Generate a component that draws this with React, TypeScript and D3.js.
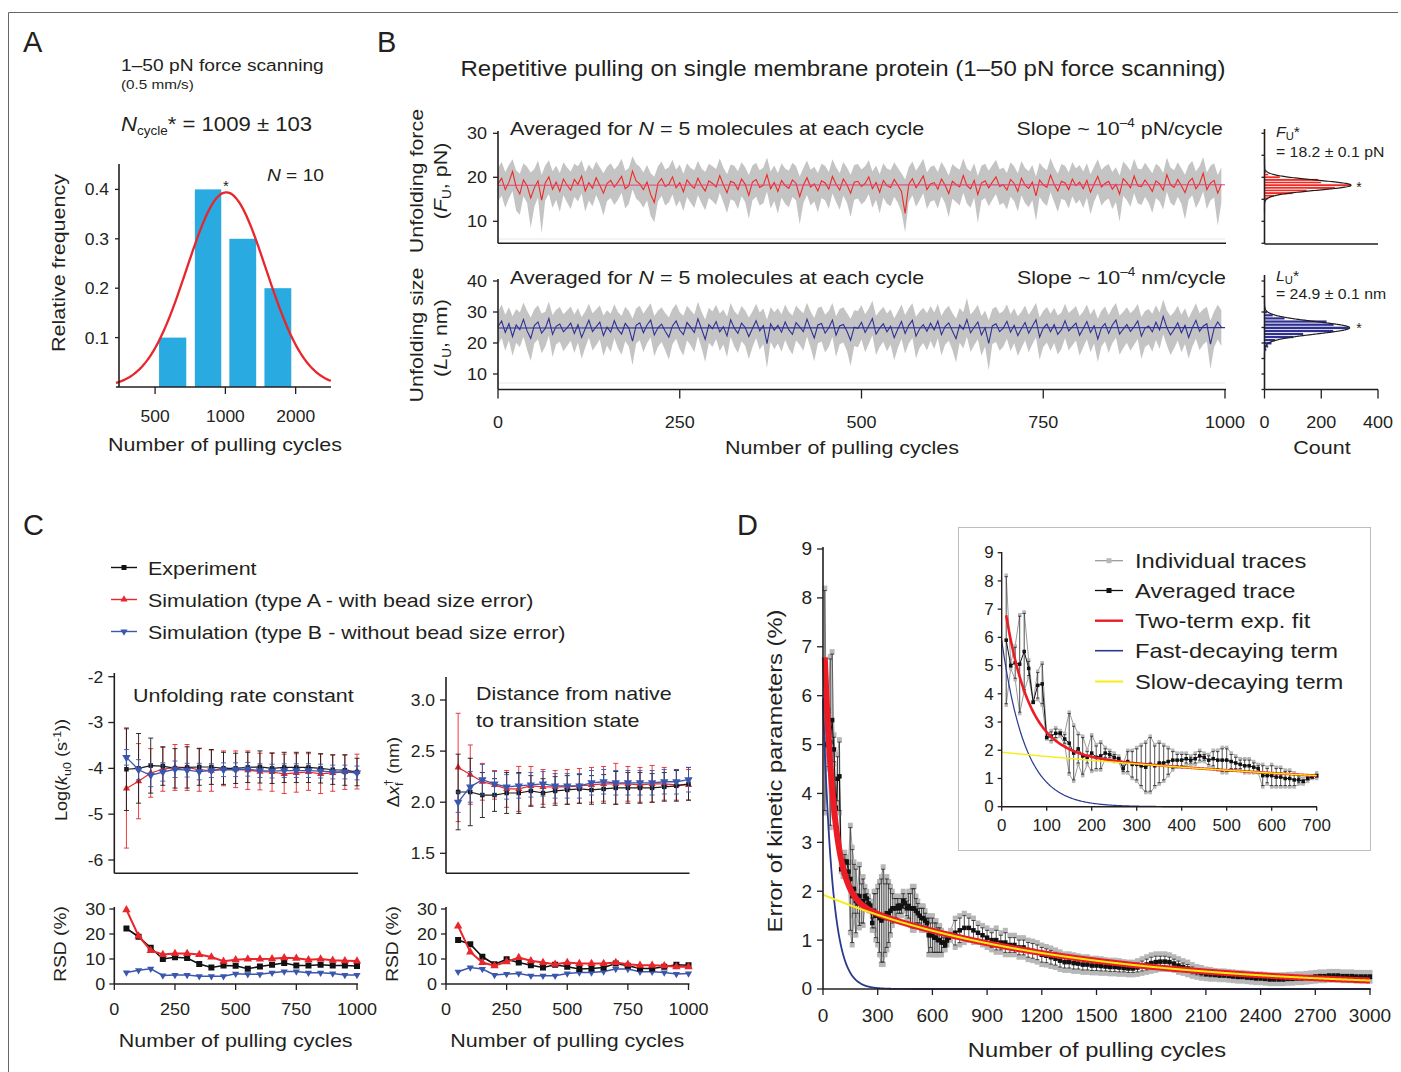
import React from 'react';
import * as d3 from 'd3';

const FONT = '"Liberation Sans", Arial, Helvetica, sans-serif';
const INK = '#231f20';
const RED = '#e8262b';
const BLUE_C = '#3b56ad';
const NAVY = '#2e3192';
const SX = 1.13; // the figure's lettering is a little wider than Arial
const TSX = 1.06;

// ---------- A: histogram of N_cycle* ----------
const cycleBinLo = [520, 740, 1040, 1470];
const cycleBinHi = [680, 960, 1355, 1915];
const cycleFreq = [0.1, 0.4, 0.3, 0.2];
const cycleFit = { mean: 1009, sdLog10: 0.17, peak: 0.394 };
const aXTicks = [500, 1000, 2000];
const aYTicks = [0.1, 0.2, 0.3, 0.4];

// ---------- B: averaged traces, every 5th cycle (0..995) ----------
const forceMean = [
  18.5, 19.8, 17.2, 18.9, 21.3, 17.8, 16.2, 19.4, 18.1, 15.3, 17.6, 19.2, 14.8, 18.7, 20.1, 17.3, 18.9, 16.8, 19.6, 18.2,
  17.1, 19.5, 18.4, 20.3, 16.9, 18.8, 17.5, 19.9, 18.2, 16.4, 18.6, 19.3, 17.8, 18.9, 20.2, 17.4, 18.1, 21.4, 19.2, 18.5,
  17.2, 18.9, 16.1, 14.3, 18.6, 19.7, 17.9, 18.4, 20.1, 17.6, 18.8, 16.7, 19.4, 18.3, 17.5, 19.8, 18.1, 16.9, 19.2, 18.6,
  17.8, 20.4, 18.3, 16.5, 19.1, 18.7, 17.2, 19.6, 18.4, 15.9, 18.9, 19.5, 17.7, 18.2, 20.6, 17.4, 18.8, 16.8, 19.3, 18.1,
  17.5, 19.4, 18.6, 15.6, 18.2, 19.9, 17.8, 18.5, 16.9, 19.2, 18.7, 17.3, 20.2, 18.4, 17.1, 19.6, 18.3, 16.4, 18.9, 19.1,
  17.9, 18.6, 20.1, 17.4, 18.8, 16.6, 19.3, 18.1, 17.7, 19.5, 18.2, 16.8, 11.8, 18.4, 19.7, 17.6, 18.9, 20.3, 17.2, 18.5,
  18.8, 17.3, 19.6, 18.2, 16.3, 19.1, 18.4, 17.8, 20.4, 18.1, 17.4, 19.3, 16.1, 18.7, 19.2, 17.6, 18.9, 20.1, 17.9, 18.3,
  17.1, 19.5, 18.6, 16.8, 19.8, 18.2, 17.5, 18.9, 15.8, 19.4, 18.3, 17.7, 20.5, 18.4, 16.9, 19.1, 18.7, 17.2, 19.6, 18.1,
  18.9, 17.4, 19.3, 16.6, 18.5, 20.2, 17.8, 18.6, 19.1, 17.3, 18.4, 16.2, 19.7, 18.8, 17.6, 20.3, 18.1, 17.9, 19.4, 18.2,
  16.8, 19.2, 18.5, 17.1, 20.6, 18.3, 17.7, 19.5, 18.1, 16.5, 18.9, 19.8, 17.4, 18.6, 20.9, 17.2, 18.7, 19.3, 16.4, 18.4,
];
const forceHi = [
  22.1, 23.5, 21.2, 22.8, 24.1, 21.6, 20.8, 23.2, 22.4, 21.1, 21.9, 23.8, 20.6, 22.7, 23.9, 21.4, 22.6, 21.0, 23.4, 22.2,
  21.3, 23.1, 22.5, 23.9, 21.2, 22.9, 21.7, 23.6, 22.3, 20.9, 22.4, 23.2, 21.8, 22.6, 24.2, 21.5, 22.1, 24.8, 23.1, 22.4,
  21.1, 22.8, 20.9, 20.1, 22.5, 23.6, 21.8, 22.3, 24.0, 21.7, 22.9, 20.8, 23.2, 22.1, 21.6, 23.7, 22.0, 21.2, 23.1, 22.5,
  21.9, 24.3, 22.2, 20.7, 22.9, 22.6, 21.4, 23.4, 22.3, 20.5, 22.7, 23.3, 21.6, 22.2, 24.5, 21.3, 22.7, 20.9, 23.2, 22.0,
  21.5, 23.3, 22.5, 20.2, 22.1, 23.8, 21.7, 22.4, 21.0, 23.1, 22.6, 21.2, 24.1, 22.3, 21.0, 23.5, 22.2, 20.6, 22.8, 23.0,
  21.8, 22.5, 23.9, 21.3, 22.7, 20.7, 23.2, 22.0, 21.6, 23.4, 22.1, 20.9, 19.5, 22.3, 23.6, 21.5, 22.8, 24.2, 21.1, 22.4,
  22.7, 21.2, 23.5, 22.1, 20.4, 23.0, 22.3, 21.7, 24.3, 22.0, 21.3, 23.2, 20.3, 22.6, 23.1, 21.5, 22.8, 24.0, 21.8, 22.2,
  21.0, 23.4, 22.5, 20.9, 23.7, 22.1, 21.4, 22.8, 20.2, 23.3, 22.2, 21.6, 24.4, 22.3, 20.8, 23.0, 22.6, 21.1, 23.5, 22.0,
  22.8, 21.3, 23.2, 20.7, 22.4, 24.1, 21.7, 22.5, 23.0, 21.2, 22.3, 20.4, 23.6, 22.7, 21.5, 24.2, 22.0, 21.8, 23.3, 22.1,
  20.9, 23.1, 22.4, 21.0, 24.5, 22.2, 21.6, 23.4, 22.0, 20.6, 22.8, 23.7, 21.3, 22.5, 24.6, 21.1, 22.6, 23.2, 20.5, 22.3,
];
const forceLo = [
  14.6, 15.8, 13.1, 15.2, 16.9, 12.4, 11.5, 15.7, 14.2, 8.5, 13.3, 15.4, 7.2, 14.8, 16.2, 13.0, 14.9, 12.1, 15.9, 14.3,
  12.8, 15.6, 14.5, 16.4, 12.2, 14.7, 13.4, 16.0, 14.1, 11.3, 14.6, 15.3, 13.7, 14.9, 16.5, 12.9, 14.0, 17.2, 15.2, 14.4,
  13.1, 14.8, 11.2, 9.8, 14.5, 15.8, 13.6, 14.3, 16.1, 13.3, 14.7, 12.3, 15.5, 14.2, 13.0, 15.9, 14.1, 12.5, 15.3, 14.6,
  13.7, 16.5, 14.3, 11.9, 15.0, 14.6, 12.8, 15.7, 14.4, 10.6, 14.8, 15.6, 13.6, 14.1, 16.8, 12.9, 14.6, 11.7, 15.4, 14.0,
  13.2, 15.5, 14.7, 9.3, 14.1, 16.0, 13.6, 14.5, 12.0, 15.3, 14.8, 12.8, 16.3, 14.4, 12.6, 15.8, 14.2, 11.0, 14.9, 15.2,
  13.8, 14.6, 16.2, 13.1, 14.9, 11.8, 15.4, 14.0, 13.4, 15.6, 14.2, 12.1, 7.5, 14.4, 15.9, 13.3, 14.8, 16.4, 12.8, 14.5,
  14.8, 12.9, 15.7, 14.1, 10.9, 15.1, 14.4, 13.6, 16.5, 14.0, 13.1, 15.4, 9.6, 14.7, 15.3, 13.4, 14.9, 16.2, 13.7, 14.2,
  12.7, 15.6, 14.6, 12.2, 15.9, 14.1, 13.2, 14.8, 10.1, 15.5, 14.3, 13.5, 16.6, 14.4, 12.1, 15.1, 14.7, 12.9, 15.7, 14.0,
  14.9, 13.0, 15.4, 11.6, 14.5, 16.3, 13.6, 14.6, 15.2, 12.8, 14.4, 9.9, 15.8, 14.8, 13.3, 16.4, 14.1, 13.7, 15.5, 14.2,
  11.9, 15.3, 14.5, 12.7, 16.7, 14.2, 13.5, 15.6, 14.0, 10.4, 14.9, 15.9, 13.0, 14.6, 16.8, 12.8, 14.7, 15.4, 9.0, 14.3,
];
const sizeMean = [
  25.3, 27.1, 23.4, 26.2, 22.1, 25.8, 24.3, 27.6, 23.9, 21.5, 25.6, 26.8, 23.2, 24.7, 27.9, 22.8, 25.4, 26.1, 23.6, 24.9,
  26.4, 23.1, 25.9, 21.8, 24.6, 27.3, 23.7, 25.2, 26.7, 22.4, 25.1, 23.5, 27.2, 24.4, 22.9, 26.3, 24.8, 20.6, 25.7, 26.5,
  23.3, 25.8, 27.4, 22.6, 24.9, 26.1, 23.8, 21.9, 25.5, 27.1, 24.2, 22.7, 26.6, 25.1, 23.4, 27.8, 24.5, 21.2, 25.9, 24.6,
  26.9, 23.6, 25.3, 22.3, 27.5, 24.8, 23.1, 26.4, 25.0, 22.1, 24.7, 27.2, 23.9, 25.6, 19.8, 26.2, 24.1, 25.7, 23.5, 26.8,
  24.3, 22.8, 26.6, 25.2, 23.7, 27.7, 24.6, 21.6, 25.8, 26.3, 23.2, 24.9, 27.4, 22.5, 25.5, 26.0, 23.8, 20.9, 25.1, 24.7,
  26.7, 23.4, 25.6, 27.9, 22.9, 24.8, 26.2, 23.6, 25.4, 21.7, 24.5, 26.9, 23.1, 25.7, 27.3, 22.2, 24.6, 25.9, 23.8, 26.4,
  24.2, 27.1, 22.7, 25.3, 26.5, 23.9, 21.4, 25.8, 24.4, 27.6, 23.3, 25.1, 26.8, 22.6, 24.9, 19.9, 25.5, 26.2, 23.7, 24.8,
  27.0, 23.5, 25.7, 22.4, 24.6, 26.6, 23.2, 25.4, 27.5, 21.9, 24.8, 26.1, 23.6, 25.9, 22.8, 24.3, 27.2, 23.9, 25.2, 26.4,
  22.5, 24.7, 26.9, 23.4, 25.6, 21.3, 24.9, 26.3, 23.1, 25.8, 27.4, 22.9, 24.5, 26.0, 23.7, 25.3, 27.1, 22.2, 24.8, 25.5,
  23.6, 26.7, 24.2, 28.6, 25.0, 22.6, 24.4, 26.5, 23.3, 25.7, 21.8, 24.9, 27.3, 23.8, 25.4, 26.2, 19.6, 24.7, 26.8, 25.1,
];
const sizeHi = [
  30.2, 32.4, 29.1, 31.5, 28.6, 31.0, 29.8, 33.1, 30.4, 28.2, 30.9, 32.2, 29.5, 30.1, 33.4, 29.0, 30.7, 31.6, 29.3, 30.5,
  31.8, 29.2, 31.3, 28.4, 30.2, 32.7, 29.6, 30.8, 32.1, 28.9, 30.6, 29.4, 32.5, 30.0, 28.8, 31.7, 30.3, 27.9, 31.1, 32.0,
  29.4, 31.2, 32.8, 28.7, 30.4, 31.5, 29.7, 28.3, 31.0, 32.6, 29.9, 28.8, 32.0, 30.6, 29.2, 33.3, 30.1, 27.6, 31.4, 30.2,
  32.3, 29.5, 30.8, 28.5, 32.9, 30.3, 29.0, 31.9, 30.5, 28.2, 30.2, 32.7, 29.8, 31.1, 27.5, 31.6, 29.9, 31.2, 29.3, 32.4,
  30.1, 28.9, 32.1, 30.7, 29.6, 33.0, 30.2, 28.1, 31.3, 31.8, 29.1, 30.4, 32.9, 28.6, 31.0, 31.5, 29.7, 27.8, 30.6, 30.3,
  32.2, 29.3, 31.1, 33.6, 28.8, 30.3, 31.7, 29.5, 30.9, 28.0, 30.1, 32.4, 29.0, 31.2, 32.8, 28.5, 30.2, 31.4, 29.6, 31.9,
  29.8, 32.6, 28.8, 30.8, 32.0, 29.7, 27.9, 31.3, 29.9, 34.5, 29.2, 30.6, 32.3, 28.7, 30.4, 27.3, 31.0, 31.7, 29.5, 30.3,
  32.5, 29.3, 31.2, 28.6, 30.1, 32.1, 29.1, 30.9, 33.0, 28.3, 30.3, 31.6, 29.4, 31.4, 28.9, 29.8, 32.7, 29.7, 30.7, 31.9,
  28.7, 30.2, 32.4, 29.2, 31.1, 27.8, 30.4, 31.8, 29.0, 31.3, 32.9, 28.9, 30.0, 31.5, 29.6, 30.8, 32.6, 28.4, 30.3, 31.0,
  29.4, 32.2, 29.8, 34.0, 30.5, 28.7, 30.0, 32.0, 29.1, 31.2, 28.1, 30.4, 32.8, 29.6, 30.9, 31.7, 27.2, 30.2, 32.3, 30.6,
];
const sizeLo = [
  19.4, 21.6, 17.5, 20.8, 15.9, 20.1, 18.6, 22.0, 17.8, 14.2, 19.9, 21.2, 16.7, 18.8, 22.3, 15.5, 19.6, 20.4, 17.3, 19.0,
  20.7, 16.8, 20.2, 14.9, 18.5, 21.7, 17.6, 19.3, 21.1, 15.8, 19.2, 17.1, 21.5, 18.3, 16.2, 20.6, 18.9, 12.8, 19.8, 20.9,
  17.0, 19.9, 21.8, 15.7, 18.8, 20.3, 17.7, 14.6, 19.6, 21.4, 18.1, 16.0, 20.9, 19.2, 17.1, 22.2, 18.4, 13.9, 20.1, 18.7,
  21.3, 17.4, 19.5, 15.4, 21.9, 18.9, 16.8, 20.6, 19.1, 14.8, 18.6, 21.6, 17.8, 19.7, 11.9, 20.4, 18.0, 19.8, 17.2, 21.0,
  18.2, 16.3, 20.8, 19.4, 17.5, 22.1, 18.5, 14.1, 19.9, 20.5, 16.9, 18.8, 21.9, 15.6, 19.6, 20.2, 17.4, 12.6, 19.0, 18.6,
  21.1, 17.0, 19.7, 22.4, 16.1, 18.7, 20.4, 17.3, 19.5, 14.4, 18.4, 21.3, 16.6, 19.8, 21.6, 15.1, 18.5, 20.0, 17.6, 20.7,
  18.1, 21.5, 16.0, 19.4, 20.7, 17.8, 13.7, 20.1, 18.2, 22.0, 17.1, 19.3, 21.2, 15.9, 18.9, 11.2, 19.7, 20.3, 17.5, 18.8,
  21.4, 17.3, 19.9, 15.8, 18.4, 20.9, 16.9, 19.6, 21.8, 14.6, 18.7, 20.2, 17.4, 20.0, 16.3, 18.1, 21.6, 17.6, 19.3, 20.8,
  15.9, 18.6, 21.2, 17.0, 19.8, 13.9, 18.9, 20.6, 16.8, 19.9, 21.7, 16.2, 18.3, 20.1, 17.5, 19.4, 21.3, 14.8, 18.7, 19.6,
  17.2, 21.0, 18.1, 22.8, 19.3, 16.1, 18.2, 20.8, 17.0, 19.7, 14.9, 18.8, 21.4, 17.7, 19.5, 20.5, 11.5, 18.6, 21.1, 19.0,
];
const forceFit = { intercept: 18.2, slope: 1e-4 };
const sizeFit = { intercept: 24.85, slope: 1e-4 };
const bXTicks = [0, 250, 500, 750, 1000];

// side histograms (Count)
const forceBinMid = [21.2, 20.6, 20.0, 19.4, 18.8, 18.2, 17.6, 17.0, 16.4, 15.8, 15.2];
const forceCount = [6, 15, 55, 190, 200, 305, 250, 150, 100, 35, 15];
const forceBinW = 0.6;
const forceHistFit = { mean: 18.2, sd: 1.15, peak: 305 };
const sizeBinMid = [30.9, 29.9, 28.9, 27.9, 26.9, 25.9, 24.9, 23.9, 22.9, 21.9, 20.9, 19.9, 18.9, 17.9];
const sizeCount = [5, 10, 30, 72, 220, 245, 298, 244, 138, 103, 38, 26, 14, 8];
const sizeBinW = 1.0;
const sizeHistFit = { mean: 24.9, sd: 2.0, peak: 300 };

// ---------- C: convergence of kinetic parameters ----------
const cCycles = [50, 100, 150, 200, 250, 300, 350, 400, 450, 500, 550, 600, 650, 700, 750, 800, 850, 900, 950, 1000];
const kExp = [-4.02, -4.0, -3.94, -3.95, -4.0, -3.98, -3.97, -3.97, -4.0, -4.0, -3.98, -3.97, -4.0, -3.98, -3.98, -3.98, -4.0, -4.03, -4.04, -4.08];
const kExpErr = [0.9, 0.76, 0.6, 0.42, 0.43, 0.45, 0.4, 0.38, 0.35, 0.33, 0.33, 0.35, 0.33, 0.33, 0.33, 0.33, 0.32, 0.32, 0.33, 0.3];
const kSimA = [-4.44, -4.28, -4.1, -4.02, -3.98, -3.98, -4.03, -4.05, -4.0, -4.02, -4.04, -4.07, -4.08, -4.12, -4.1, -4.08, -4.12, -4.1, -4.08, -4.07];
const kSimAErr = [1.3, 0.82, 0.53, 0.48, 0.5, 0.5, 0.47, 0.45, 0.38, 0.4, 0.42, 0.4, 0.42, 0.43, 0.42, 0.4, 0.43, 0.4, 0.38, 0.38];
const kSimB = [-3.76, -4.03, -4.15, -4.08, -4.02, -4.04, -4.07, -4.05, -4.03, -4.03, -4.02, -4.05, -4.06, -4.05, -4.05, -4.05, -4.06, -4.08, -4.08, -4.1];
const kSimBErr = [0.17, 0.22, 0.25, 0.2, 0.18, 0.15, 0.18, 0.15, 0.15, 0.15, 0.15, 0.15, 0.15, 0.15, 0.15, 0.15, 0.15, 0.15, 0.15, 0.15];
const dxExp = [2.1, 2.1, 2.07, 2.07, 2.09, 2.09, 2.11, 2.09, 2.11, 2.12, 2.13, 2.12, 2.13, 2.14, 2.14, 2.14, 2.14, 2.15, 2.16, 2.18];
const dxExpErr = [0.37, 0.33, 0.22, 0.16, 0.2, 0.2, 0.15, 0.14, 0.14, 0.14, 0.14, 0.14, 0.14, 0.16, 0.15, 0.15, 0.14, 0.14, 0.15, 0.16];
const dxSimA = [2.34, 2.27, 2.2, 2.17, 2.13, 2.13, 2.16, 2.15, 2.15, 2.15, 2.16, 2.17, 2.18, 2.18, 2.18, 2.17, 2.18, 2.18, 2.17, 2.17];
const dxSimAErr = [0.53, 0.29, 0.18, 0.14, 0.18, 0.22, 0.19, 0.17, 0.16, 0.17, 0.17, 0.17, 0.17, 0.2, 0.17, 0.17, 0.18, 0.16, 0.15, 0.15];
const dxSimB = [2.0, 2.15, 2.22, 2.18, 2.15, 2.16, 2.17, 2.18, 2.16, 2.16, 2.16, 2.19, 2.2, 2.19, 2.19, 2.19, 2.19, 2.2, 2.2, 2.22];
const dxSimBErr = [0.1, 0.15, 0.15, 0.12, 0.12, 0.12, 0.12, 0.12, 0.12, 0.12, 0.12, 0.12, 0.12, 0.12, 0.12, 0.12, 0.12, 0.12, 0.12, 0.12];
const rsdKExp = [22.2, 18.9, 14.5, 10, 10.7, 10.4, 8, 6.6, 7.4, 7.3, 6.1, 7, 7.7, 8.4, 7.4, 7.4, 7.7, 7.4, 7.4, 7.2];
const rsdKSimA = [29.7, 19.2, 13.4, 11.8, 12.2, 12.2, 11.8, 10.8, 9.1, 9.7, 10, 10, 10.1, 10.5, 10.3, 9.7, 10, 9.5, 9.3, 9.2];
const rsdKSimB = [4.6, 5.5, 6.1, 3.4, 3.6, 3.6, 3.1, 3.1, 3.1, 4.1, 3.9, 3.9, 4.5, 5, 5, 4.5, 4.5, 4.2, 3.6, 3.6];
const rsdDxExp = [17.6, 15.9, 10.9, 7.9, 9.9, 8.6, 7.5, 6.6, 7.7, 6.9, 6, 6.2, 6.6, 8.2, 7.3, 6.2, 6.2, 6.9, 7.7, 7.5];
const rsdDxSimA = [23.2, 12.8, 8.6, 7.3, 8.9, 10.6, 9.3, 8.6, 7.9, 8.6, 8.2, 8.2, 8.2, 8.6, 7.9, 7.5, 7.5, 7.3, 6.9, 6.9];
const rsdDxSimB = [4.9, 6.6, 6, 3.6, 4, 4.2, 3.3, 3.3, 3.3, 4.2, 4.6, 4.6, 5, 6, 6, 4.9, 4.9, 4.6, 4, 4.2];
const cXTicks = [0, 250, 500, 750, 1000];

// ---------- D: error of kinetic parameters ----------
const earlyCycles = d3.range(10, 701, 10); // 10..700
const earlyTraceA = [
  8.2, 5.1, 5.7, 6.8, 6.9, 5.2, 3.7, 4.8, 5.1, 2.5,
  2.7, 2.8, 2.7, 2.6, 3.35, 2.9, 2.6, 2.5, 2.0, 2.55,
  2.2, 2.3, 2.1, 2.0, 1.9, 1.8, 1.5, 2.0, 2.0, 2.1,
  2.2, 2.3, 2.5, 2.2, 2.3, 2.2, 2.1, 2.0, 1.9, 1.9,
  1.9, 1.8, 1.9, 2.0, 1.9, 1.85, 2.0, 2.0, 2.1, 2.1,
  1.9, 1.8, 1.7, 1.7, 1.7, 1.6, 1.5, 1.5, 1.4, 1.5,
  1.4, 1.4, 1.3, 1.3, 1.2, 1.1, 1.0, 1.1, 1.1, 1.2,
];
const earlyTraceB = [
  3.6, 4.9, 4.5, 3.3, 4.1, 4.6, 3.7, 3.8, 3.6, 2.4,
  2.3, 2.4, 2.5, 2.2, 1.15, 0.9, 1.5, 1.1, 1.5, 1.25,
  1.3, 1.3, 1.7, 1.7, 1.6, 1.6, 1.2, 1.2, 1.0, 0.9,
  0.7, 0.5, 0.5, 0.7, 0.8, 0.9, 1.1, 1.3, 1.4, 1.4,
  1.5, 1.5, 1.5, 1.6, 1.6, 1.45, 1.4, 1.3, 1.2, 1.2,
  1.3, 1.3, 1.3, 1.2, 1.2, 1.2, 1.2, 0.7, 0.8, 0.7,
  0.7, 0.7, 0.7, 0.7, 0.7, 0.8, 0.8, 0.9, 1.0, 1.0,
];
const lateCycles = d3.range(725, 3001, 25); // 725..3000
const lateTraceA = [
  1.45, 1.5, 1.55, 1.5, 1.45, 1.35, 1.3, 1.25, 1.2, 1.25, 1.15, 1.2, 1.1, 1.1, 1.05, 1.05, 1.0, 0.98, 0.95, 0.9,
  0.87, 0.84, 0.8, 0.76, 0.72, 0.72, 0.7, 0.68, 0.66, 0.66, 0.63, 0.63, 0.62, 0.6, 0.59, 0.59, 0.58, 0.56, 0.55, 0.55,
  0.58, 0.62, 0.66, 0.7, 0.72, 0.72, 0.72, 0.7, 0.66, 0.62, 0.58, 0.55, 0.5, 0.46, 0.44, 0.41, 0.4, 0.38, 0.37, 0.37,
  0.36, 0.35, 0.34, 0.34, 0.33, 0.32, 0.31, 0.31, 0.3, 0.29, 0.29, 0.29, 0.29, 0.3, 0.3, 0.31, 0.31, 0.32, 0.33, 0.34,
  0.35, 0.35, 0.36, 0.36, 0.36, 0.35, 0.35, 0.35, 0.34, 0.34, 0.34, 0.34,
];
const lateTraceB = [
  0.85, 0.9, 0.95, 1.0, 0.95, 0.95, 0.9, 0.85, 0.8, 0.75, 0.75, 0.7, 0.7, 0.7, 0.65, 0.65, 0.6, 0.58, 0.55, 0.5,
  0.49, 0.46, 0.44, 0.4, 0.38, 0.38, 0.36, 0.36, 0.34, 0.34, 0.33, 0.33, 0.32, 0.32, 0.31, 0.31, 0.3, 0.3, 0.29, 0.29,
  0.3, 0.32, 0.34, 0.36, 0.38, 0.4, 0.4, 0.4, 0.38, 0.34, 0.32, 0.29, 0.26, 0.24, 0.22, 0.21, 0.2, 0.2, 0.19, 0.19,
  0.18, 0.17, 0.16, 0.16, 0.15, 0.14, 0.13, 0.13, 0.12, 0.11, 0.11, 0.11, 0.11, 0.12, 0.12, 0.13, 0.13, 0.14, 0.15, 0.16,
  0.17, 0.17, 0.18, 0.18, 0.18, 0.17, 0.17, 0.17, 0.16, 0.16, 0.16, 0.16,
];
const expFit = { fastAmp: 5.9, fastTau: 52, slowAmp: 1.93, slowTau: 1245, start: 10 };
const dXTicks = d3.range(0, 3001, 300);
const dYTicks = d3.range(0, 10);
const insetXTicks = d3.range(0, 701, 100);

// ---------- helpers ----------
type Sc = (v: number) => number;

// text placed at (x, y) and stretched sideways a little
function T({ x, y, size, anchor = 'start', rot = false, sx = SX, children, ...rest }: any) {
  const tf = `translate(${x},${y})${rot ? ' rotate(-90)' : ''} scale(${sx},1)`;
  return (
    <text transform={tf} fontSize={size} textAnchor={anchor} {...rest}>
      {children}
    </text>
  );
}

function AxisLeft({ s, x, ticks, from, to, len = 5, size = 17, fmt = (t: number) => String(t), gap = 5, labels = true, sw = 1.6 }: any) {
  return (
    <g>
      <line x1={x} x2={x} y1={from} y2={to} stroke={INK} strokeWidth={sw} />
      {ticks.map((t: number) => (
        <g key={t}>
          <line x1={x - len} x2={x} y1={s(t)} y2={s(t)} stroke={INK} strokeWidth={1.3} />
          {labels && (
            <T x={x - len - gap} y={s(t)} dy="0.36em" anchor="end" size={size} sx={TSX}>
              {fmt(t)}
            </T>
          )}
        </g>
      ))}
    </g>
  );
}

function AxisBottom({ s, y, ticks, from, to, len = 6, size = 17, base = 30, fmt = (t: number) => String(t), sw = 1.6 }: any) {
  return (
    <g>
      <line x1={from} x2={to} y1={y} y2={y} stroke={INK} strokeWidth={sw} />
      {ticks.map((t: number) => (
        <g key={t}>
          <line x1={s(t)} x2={s(t)} y1={y} y2={y + len} stroke={INK} strokeWidth={1.3} />
          {base > 0 && (
            <T x={s(t)} y={y + base} anchor="middle" size={size} sx={TSX}>
              {fmt(t)}
            </T>
          )}
        </g>
      ))}
    </g>
  );
}

function Marker({ kind, x, y, size, color }: any) {
  if (kind === 'square') return <rect x={x - size / 2} y={y - size / 2} width={size} height={size} fill={color} />;
  const p = d3.symbol(d3.symbolTriangle, size * size * 0.62)() as string;
  return <path d={p} transform={`translate(${x},${y}) rotate(${kind === 'down' ? 180 : 0})`} fill={color} />;
}

function ErrSeries({ xs, ys, errs, sx, sy, color, marker, lw = 1.2, ms = 5, cap = 2.5, ew = 0.9 }: any) {
  const line = d3.line<number>().x((_, i) => sx(xs[i])).y((d) => sy(d));
  return (
    <g>
      {errs &&
        ys.map((v: number, i: number) => {
          const cx = sx(xs[i]);
          const a = sy(v + errs[i]);
          const b = sy(v - errs[i]);
          return (
            <g key={i} stroke={color} strokeWidth={ew}>
              <line x1={cx} x2={cx} y1={a} y2={b} />
              <line x1={cx - cap} x2={cx + cap} y1={a} y2={a} />
              <line x1={cx - cap} x2={cx + cap} y1={b} y2={b} />
            </g>
          );
        })}
      <path d={line(ys) || ''} fill="none" stroke={color} strokeWidth={lw} />
      {ys.map((v: number, i: number) => (
        <Marker key={i} kind={marker} x={sx(xs[i])} y={sy(v)} size={ms} color={color} />
      ))}
    </g>
  );
}

function VLabel({ x, y, size = 19, children }: any) {
  return (
    <T x={x} y={y} rot anchor="middle" size={size}>
      {children}
    </T>
  );
}

// ---------- Panel A ----------
function PanelA() {
  const x = d3.scaleLog().domain([340, 2834]).range([116, 331]);
  const y = d3.scaleLinear().domain([0, 0.45]).range([387, 164.7]);
  const logs = d3.range(Math.log10(340), Math.log10(2834), 0.005);
  const m = Math.log10(cycleFit.mean);
  const fit = d3
    .line<number>()
    .x((l) => x(10 ** l))
    .y((l) => y(cycleFit.peak * Math.exp(-((l - m) ** 2) / (2 * cycleFit.sdLog10 ** 2))));
  return (
    <g>
      <text x={23} y={52} fontSize={29}>A</text>
      <T x={121} y={71} size={17}>1–50 pN force scanning</T>
      <T x={121} y={89} size={13.5}>(0.5 mm/s)</T>
      <T x={121} y={131} size={20.5} sx={1.08}>
        <tspan fontStyle="italic">N</tspan>
        <tspan fontSize={12.5} dy={4}>cycle</tspan>
        <tspan dy={-4}>* = 1009 ± 103</tspan>
      </T>
      {cycleFreq.map((f, i) => (
        <rect key={i} x={x(cycleBinLo[i])} width={x(cycleBinHi[i]) - x(cycleBinLo[i])} y={y(f)} height={y(0) - y(f)} fill="#29aae1" />
      ))}
      <path d={fit(logs) || ''} fill="none" stroke={RED} strokeWidth={2.3} />
      <AxisLeft s={y} x={119} ticks={aYTicks} from={164} to={387} len={4} size={16.5} gap={6} fmt={d3.format('.1f')} />
      <AxisBottom s={x} y={387} ticks={aXTicks} from={116} to={331} len={7} size={16.5} base={35} />
      <text x={226} y={191} fontSize={15} textAnchor="middle">*</text>
      <T x={324} y={181} size={17} anchor="end">
        <tspan fontStyle="italic">N</tspan> = 10
      </T>
      <VLabel x={65} y={263} size={19}>Relative frequency</VLabel>
      <T x={225} y={451} anchor="middle" size={19}>Number of pulling cycles</T>
    </g>
  );
}

// ---------- Panel B ----------
function Trace({ cyc, mean, lo, hi, x, y, color }: any) {
  const n = Math.min(cyc.length, mean.length, lo.length, hi.length);
  const idx = d3.range(n);
  const band = d3.area<number>().x((i) => x(cyc[i])).y0((i) => y(lo[i])).y1((i) => y(hi[i]));
  const ln = d3.line<number>().x((i) => x(cyc[i])).y((i) => y(mean[i]));
  return (
    <g>
      <path d={band(idx) || ''} fill="#c4c4c4" />
      <path d={ln(idx) || ''} fill="none" stroke={color} strokeWidth={1.1} />
    </g>
  );
}

function SideHist({ mids, counts, w, y, xH, color, fit, lo, hi }: any) {
  const vs = d3.range(lo, hi, 0.05);
  const curve = d3
    .line<number>()
    .x((v) => xH(fit.peak * Math.exp(-((v - fit.mean) ** 2) / (2 * fit.sd ** 2))))
    .y((v) => y(v));
  return (
    <g>
      {mids.map((c: number, i: number) => (
        <rect key={i} x={xH(0)} y={y(c + w / 2)} width={xH(counts[i]) - xH(0)} height={y(c - w / 2) - y(c + w / 2)} fill={color} stroke="#fff" strokeWidth={0.7} />
      ))}
      <path d={curve(vs) || ''} fill="none" stroke={INK} strokeWidth={1.2} />
    </g>
  );
}

function PanelB() {
  const x = d3.scaleLinear().domain([0, 1000]).range([498, 1225]);
  const yF = d3.scaleLinear().domain([5, 30]).range([243.3, 133.3]);
  const yL = d3.scaleLinear().domain([5, 40]).range([389.5, 281]);
  const xH = d3.scaleLinear().domain([0, 400]).range([1264.5, 1378]);
  const cyc = d3.range(0, 1000, 5);
  const fitLine = (f: any, y: Sc) => (
    <line x1={x(0)} x2={x(1000)} y1={y(f.intercept)} y2={y(f.intercept + f.slope * 1000)} strokeWidth={1.1} />
  );
  return (
    <g>
      <text x={377} y={52} fontSize={29}>B</text>
      <T x={843} y={76} anchor="middle" size={21.3}>
        Repetitive pulling on single membrane protein (1–50 pN force scanning)
      </T>

      {/* unfolding force */}
      <line x1={498} x2={1225} y1={239} y2={239} stroke="#e8e8e8" strokeWidth={1} />
      <Trace cyc={cyc} mean={forceMean} lo={forceLo} hi={forceHi} x={x} y={yF} color="#ee2a24" />
      <g stroke="#e0467c">{fitLine(forceFit, yF)}</g>
      <AxisLeft s={yF} x={498} ticks={[10, 20, 30]} from={131} to={243.3} len={5} size={17} gap={6} />
      <line x1={498} x2={1226} y1={243.3} y2={243.3} stroke={INK} strokeWidth={1.6} />
      <T x={510} y={135} size={19}>
        Averaged for <tspan fontStyle="italic">N</tspan> = 5 molecules at each cycle
      </T>
      <T x={1223} y={135} size={19} anchor="end">
        Slope ~ 10<tspan fontSize={12} dy={-8}>–4</tspan>
        <tspan dy={8}> pN/cycle</tspan>
      </T>
      <VLabel x={423} y={181}>Unfolding force</VLabel>
      <VLabel x={447} y={181}>
        (<tspan fontStyle="italic">F</tspan>
        <tspan fontSize={12} dy={4}>U</tspan>
        <tspan dy={-4}>, pN)</tspan>
      </VLabel>

      {/* unfolding size */}
      <line x1={498} x2={1225} y1={383} y2={383} stroke="#e8e8e8" strokeWidth={1} />
      <Trace cyc={cyc} mean={sizeMean} lo={sizeLo} hi={sizeHi} x={x} y={yL} color={NAVY} />
      <g stroke={NAVY}>{fitLine(sizeFit, yL)}</g>
      <AxisLeft s={yL} x={498} ticks={[10, 20, 30, 40]} from={279} to={389.5} len={5} size={17} gap={6} />
      <AxisBottom s={x} y={389.5} ticks={bXTicks} from={498} to={1226} len={9} size={17} base={38} />
      <T x={510} y={284} size={19}>
        Averaged for <tspan fontStyle="italic">N</tspan> = 5 molecules at each cycle
      </T>
      <T x={1226} y={284} size={19} anchor="end">
        Slope ~ 10<tspan fontSize={12} dy={-8}>–4</tspan>
        <tspan dy={8}> nm/cycle</tspan>
      </T>
      <VLabel x={423} y={335}>Unfolding size</VLabel>
      <VLabel x={447} y={338}>
        (<tspan fontStyle="italic">L</tspan>
        <tspan fontSize={12} dy={4}>U</tspan>
        <tspan dy={-4}>, nm)</tspan>
      </VLabel>
      <T x={842} y={454} anchor="middle" size={19}>Number of pulling cycles</T>

      {/* side histograms */}
      <SideHist mids={forceBinMid} counts={forceCount} w={forceBinW} y={yF} xH={xH} color="#ee2a24" fit={forceHistFit} lo={12} hi={24.5} />
      <AxisLeft s={yF} x={1264.5} ticks={[5, 10, 15, 20, 25, 30]} from={129} to={244} len={3} labels={false} />
      <line x1={1264.5} x2={1378} y1={244} y2={244} stroke={INK} strokeWidth={1.6} />
      <T x={1276} y={137} size={14}>
        <tspan fontStyle="italic">F</tspan>
        <tspan fontSize={10} dy={3}>U</tspan>
        <tspan dy={-3}>*</tspan>
      </T>
      <T x={1276} y={157} size={14}>= 18.2 ± 0.1 pN</T>
      <text x={1359} y={192} fontSize={14} textAnchor="middle">*</text>

      <SideHist mids={sizeBinMid} counts={sizeCount} w={sizeBinW} y={yL} xH={xH} color={NAVY} fit={sizeHistFit} lo={15} hi={35} />
      <AxisLeft s={yL} x={1264.5} ticks={[5, 10, 15, 20, 25, 30, 35, 40]} from={275} to={389.5} len={3} labels={false} />
      <AxisBottom s={xH} y={389.5} ticks={[0, 200, 400]} from={1264.5} to={1378} len={9} size={17} base={38} />
      <T x={1276} y={281} size={14}>
        <tspan fontStyle="italic">L</tspan>
        <tspan fontSize={10} dy={3}>U</tspan>
        <tspan dy={-3}>*</tspan>
      </T>
      <T x={1276} y={299} size={14}>= 24.9 ± 0.1 nm</T>
      <text x={1359} y={333} fontSize={14} textAnchor="middle">*</text>
      <T x={1322} y={454} anchor="middle" size={19}>Count</T>
    </g>
  );
}

// ---------- Panel C ----------
function ConvPanel({ x0, x1, fmtY, yTicks, yScale, exp, expErr, simA, simAErr, simB, simBErr, rsd, title, ylabel, axisTop }: any) {
  const x = d3.scaleLinear().domain([0, 1000]).range([x0, x1]);
  const yR = d3.scaleLinear().domain([0, 30]).range([984, 909]);
  return (
    <g>
      <ErrSeries xs={cCycles} ys={simA} errs={simAErr} sx={x} sy={yScale} color={RED} marker="up" ms={6} lw={1.2} />
      <ErrSeries xs={cCycles} ys={exp} errs={expErr} sx={x} sy={yScale} color="#1a1a1a" marker="square" ms={4.5} lw={1.2} />
      <ErrSeries xs={cCycles} ys={simB} errs={simBErr} sx={x} sy={yScale} color={BLUE_C} marker="down" ms={7} lw={1.3} />
      <AxisLeft s={yScale} x={x0} ticks={yTicks} from={axisTop} to={873.3} len={6} size={16.5} gap={5} fmt={fmtY} />
      <line x1={x0} x2={x1 + 1} y1={873.3} y2={873.3} stroke={INK} strokeWidth={1.6} />
      {title}
      {ylabel}

      <ErrSeries xs={cCycles} ys={rsd[2]} sx={x} sy={yR} color={BLUE_C} marker="down" ms={6} lw={1.6} />
      <ErrSeries xs={cCycles} ys={rsd[0]} sx={x} sy={yR} color="#111" marker="square" ms={6} lw={1.6} />
      <ErrSeries xs={cCycles} ys={rsd[1]} sx={x} sy={yR} color={RED} marker="up" ms={7} lw={2} />
      <AxisLeft s={yR} x={x0} ticks={[0, 10, 20, 30]} from={907} to={984} len={5} size={17} gap={4} />
      <AxisBottom s={x} y={984} ticks={cXTicks} from={x0} to={x1 + 1} len={6} size={17} base={31} />
      <VLabel x={x0 - 48} y={944} size={17}>RSD (%)</VLabel>
      <T x={(x0 + x1) / 2} y={1047} anchor="middle" size={19}>Number of pulling cycles</T>
    </g>
  );
}

function PanelC() {
  const yK = d3.scaleLinear().domain([-6, -2]).range([860, 676.7]);
  const yX = d3.scaleLinear().domain([1.5, 3.0]).range([853.3, 700]);
  const legend = [
    { label: 'Experiment', color: '#111', marker: 'square', y: 567.5 },
    { label: 'Simulation (type A - with bead size error)', color: RED, marker: 'up', y: 599.5 },
    { label: 'Simulation (type B - without bead size error)', color: BLUE_C, marker: 'down', y: 631.5 },
  ];
  return (
    <g>
      <text x={23} y={535} fontSize={29}>C</text>
      {legend.map((l) => (
        <g key={l.label}>
          <line x1={111} x2={137} y1={l.y} y2={l.y} stroke={l.color} strokeWidth={1.4} />
          <Marker kind={l.marker} x={124} y={l.y} size={l.marker === 'square' ? 5 : 6} color={l.color} />
          <T x={148} y={l.y + 7} size={19}>{l.label}</T>
        </g>
      ))}
      <ConvPanel
        x0={114.3}
        x1={357}
        axisTop={673}
        yScale={yK}
        yTicks={[-6, -5, -4, -3, -2]}
        fmtY={(t: number) => (t < 0 ? '-' + Math.abs(t) : String(t))}
        exp={kExp}
        expErr={kExpErr}
        simA={kSimA}
        simAErr={kSimAErr}
        simB={kSimB}
        simBErr={kSimBErr}
        rsd={[rsdKExp, rsdKSimA, rsdKSimB]}
        title={<T x={133} y={702} size={19}>Unfolding rate constant</T>}
        ylabel={
          <VLabel x={67} y={770} size={16}>
            Log(<tspan fontStyle="italic">k</tspan>
            <tspan fontSize={11} dy={4}>u0</tspan>
            <tspan dy={-4}> (s</tspan>
            <tspan fontSize={11} dy={-6}>-1</tspan>
            <tspan dy={6}>))</tspan>
          </VLabel>
        }
      />
      <ConvPanel
        x0={446}
        x1={688.5}
        axisTop={677}
        yScale={yX}
        yTicks={[1.5, 2.0, 2.5, 3.0]}
        fmtY={d3.format('.1f')}
        exp={dxExp}
        expErr={dxExpErr}
        simA={dxSimA}
        simAErr={dxSimAErr}
        simB={dxSimB}
        simBErr={dxSimBErr}
        rsd={[rsdDxExp, rsdDxSimA, rsdDxSimB]}
        title={
          <g>
            <T x={476} y={700} size={19}>Distance from native</T>
            <T x={476} y={727} size={19}>to transition state</T>
          </g>
        }
        ylabel={
          <VLabel x={399} y={772} size={16}>
            Δ<tspan fontStyle="italic">x</tspan>
            <tspan fontSize={11} dy={4}>f</tspan>
            <tspan fontSize={11} dx={-3} dy={-11}>†</tspan>
            <tspan dy={7}> (nm)</tspan>
          </VLabel>
        }
      />
    </g>
  );
}

// ---------- Panel D ----------
function DecayPlot({ x, y, cycles, tA, tB, fitMax, thick }: any) {
  const n = Math.min(cycles.length, tA.length, tB.length);
  const idx = d3.range(n);
  const avg = idx.map((i: number) => (tA[i] + tB[i]) / 2);
  const ln = (arr: number[]) => d3.line<number>().x((i) => x(cycles[i])).y((i) => y(arr[i]))(idx) || '';
  const fast = (c: number) => expFit.fastAmp * Math.exp(-c / expFit.fastTau);
  const slow = (c: number) => expFit.slowAmp * Math.exp(-c / expFit.slowTau);
  const cs = d3.range(0, fitMax + 1, 2);
  const cr = d3.range(expFit.start, fitMax + 1, 2);
  const curve = (f: (c: number) => number, arr: number[]) => d3.line<number>().x((c) => x(c)).y((c) => y(f(c)))(arr) || '';
  const gs = thick ? 5 : 3.5;
  const bs = thick ? 4.5 : 3.5;
  const cap = thick ? 2 : 1.6;
  return (
    <g>
      <path d={ln(tA)} fill="none" stroke="#9a9a9a" strokeWidth={1} />
      <path d={ln(tB)} fill="none" stroke="#9a9a9a" strokeWidth={1} />
      {idx.map((i: number) => (
        <g key={'g' + i} fill="#b8b8b8">
          <rect x={x(cycles[i]) - gs / 2} y={y(tA[i]) - gs / 2} width={gs} height={gs} />
          <rect x={x(cycles[i]) - gs / 2} y={y(tB[i]) - gs / 2} width={gs} height={gs} />
        </g>
      ))}
      {idx.map((i: number) => {
        const cx = x(cycles[i]);
        const a = y(Math.max(tA[i], tB[i]) - 0.05);
        const b = y(Math.min(tA[i], tB[i]) + 0.05);
        return (
          <g key={'e' + i} stroke="#222" strokeWidth={0.8}>
            <line x1={cx} x2={cx} y1={a} y2={b} />
            <line x1={cx - cap} x2={cx + cap} y1={a} y2={a} />
            <line x1={cx - cap} x2={cx + cap} y1={b} y2={b} />
          </g>
        );
      })}
      <path d={ln(avg)} fill="none" stroke="#111" strokeWidth={1} />
      {idx.map((i: number) => (
        <rect key={'b' + i} x={x(cycles[i]) - bs / 2} y={y(avg[i]) - bs / 2} width={bs} height={bs} fill="#111" />
      ))}
      <path d={curve(fast, cs)} fill="none" stroke="#2b3990" strokeWidth={thick ? 1.8 : 1.2} />
      <path d={curve((c) => fast(c) + slow(c), cr)} fill="none" stroke="#ed1c24" strokeWidth={thick ? 6 : 2.6} strokeLinejoin="round" />
      <path d={curve(slow, cs)} fill="none" stroke="#f7ec13" strokeWidth={thick ? 2 : 1.4} />
    </g>
  );
}

function PanelD() {
  const x = d3.scaleLinear().domain([0, 3000]).range([823, 1370]);
  const y = d3.scaleLinear().domain([0, 9]).range([989, 549]);
  const xi = d3.scaleLinear().domain([0, 700]).range([1001.7, 1316.7]);
  const yi = d3.scaleLinear().domain([0, 9]).range([806.7, 552.7]);
  const allCycles = earlyCycles.concat(lateCycles);
  const allA = earlyTraceA.concat(lateTraceA);
  const allB = earlyTraceB.concat(lateTraceB);
  const legend = [
    { label: 'Individual traces', color: '#9a9a9a', mk: '#b8b8b8', w: 1.3 },
    { label: 'Averaged trace', color: '#111', mk: '#111', w: 1.3 },
    { label: 'Two-term exp. fit', color: '#ed1c24', w: 2.4 },
    { label: 'Fast-decaying term', color: '#2b3990', w: 1.6 },
    { label: 'Slow-decaying term', color: '#f7ec13', w: 2 },
  ];
  const legY = [560.7, 590.5, 620.7, 650.7, 681.5];
  return (
    <g>
      <text x={737} y={535} fontSize={29}>D</text>
      <DecayPlot x={x} y={y} cycles={allCycles} tA={allA} tB={allB} fitMax={3000} thick />
      <AxisLeft s={y} x={823} ticks={dYTicks} from={547} to={989} len={6} size={18} gap={5} />
      <AxisBottom s={x} y={989} ticks={dXTicks} from={823} to={1371} len={6} size={18} base={33} />
      <VLabel x={782} y={771} size={21}>Error of kinetic parameters (%)</VLabel>
      <T x={1097} y={1057} anchor="middle" size={21}>Number of pulling cycles</T>

      {/* inset */}
      <rect x={958.5} y={527.5} width={412} height={323} fill="#fff" stroke="#bdbdbd" strokeWidth={1} />
      <DecayPlot x={xi} y={yi} cycles={earlyCycles} tA={earlyTraceA} tB={earlyTraceB} fitMax={700} thick={false} />
      <AxisLeft s={yi} x={1001.7} ticks={dYTicks} from={552} to={806.7} len={4} size={16} gap={4} sw={1.4} />
      <AxisBottom s={xi} y={806.7} ticks={insetXTicks} from={1001.7} to={1317} len={4} size={16} base={24} sw={1.4} />
      {legend.map((l, i) => (
        <g key={l.label}>
          <line x1={1095} x2={1123} y1={legY[i]} y2={legY[i]} stroke={l.color} strokeWidth={l.w} />
          {l.mk && <rect x={1106.5} y={legY[i] - 2.5} width={5} height={5} fill={l.mk} />}
          <T x={1135} y={legY[i] + 7.5} size={21}>{l.label}</T>
        </g>
      ))}
    </g>
  );
}

export default function App() {
  return (
    <svg
      width={1401}
      height={1072}
      viewBox="0 0 1401 1072"
      style={{ position: 'absolute', left: 0, top: 0, display: 'block' }}
      fontFamily={FONT}
      fill={INK}
    >
      <rect width={1401} height={1072} fill="#fff" />
      <path d="M8.5,1072 V12.5 H1398" fill="none" stroke="#666" strokeWidth={1} />
      <PanelA />
      <PanelB />
      <PanelC />
      <PanelD />
    </svg>
  );
}
